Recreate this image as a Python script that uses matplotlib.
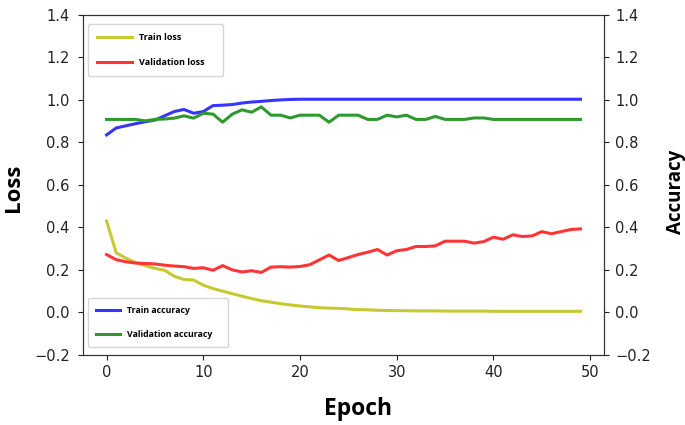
import matplotlib
matplotlib.use("Agg")
import matplotlib.pyplot as plt
import numpy as np

epochs = list(range(50))

train_loss = [0.43, 0.28, 0.255, 0.235, 0.22, 0.207, 0.198, 0.17, 0.155, 0.152,
              0.128, 0.112, 0.10, 0.088, 0.076, 0.065, 0.055, 0.048, 0.041, 0.035,
              0.030, 0.026, 0.022, 0.020, 0.019, 0.016, 0.013, 0.012, 0.010, 0.009,
              0.008, 0.008, 0.007, 0.007, 0.007, 0.006, 0.006, 0.006, 0.006, 0.006,
              0.005, 0.005, 0.005, 0.005, 0.005, 0.005, 0.005, 0.005, 0.005, 0.005]

val_loss = [0.272, 0.248, 0.238, 0.232, 0.230, 0.228, 0.222, 0.218, 0.215, 0.207,
            0.210, 0.198, 0.220, 0.200, 0.190, 0.196, 0.188, 0.213, 0.215, 0.213,
            0.216, 0.224, 0.247, 0.270, 0.244, 0.258, 0.272, 0.283, 0.296, 0.270,
            0.290, 0.296, 0.310, 0.310, 0.313, 0.335, 0.335, 0.335, 0.326, 0.333,
            0.354, 0.344, 0.365, 0.357, 0.360, 0.380, 0.370, 0.380, 0.390, 0.393]

train_acc = [0.835, 0.868, 0.878, 0.888, 0.897, 0.905, 0.925, 0.945, 0.955, 0.937,
             0.945, 0.973, 0.975, 0.978, 0.985, 0.990, 0.993, 0.997, 1.0, 1.002,
             1.003, 1.003, 1.003, 1.003, 1.003, 1.003, 1.003, 1.003, 1.003, 1.003,
             1.003, 1.003, 1.003, 1.003, 1.003, 1.003, 1.003, 1.003, 1.003, 1.003,
             1.003, 1.003, 1.003, 1.003, 1.003, 1.003, 1.003, 1.003, 1.003, 1.003]

val_acc = [0.908, 0.908, 0.908, 0.908, 0.901, 0.908, 0.910, 0.914, 0.925, 0.914,
           0.937, 0.933, 0.895, 0.933, 0.953, 0.942, 0.967, 0.928, 0.928, 0.915,
           0.928, 0.928, 0.928, 0.895, 0.928, 0.928, 0.928, 0.908, 0.908, 0.928,
           0.920, 0.928, 0.908, 0.908, 0.922, 0.908, 0.908, 0.908, 0.915, 0.915,
           0.908, 0.908, 0.908, 0.908, 0.908, 0.908, 0.908, 0.908, 0.908, 0.908]

yticks = [-0.2, 0.0, 0.2, 0.4, 0.6, 0.8, 1.0, 1.2, 1.4]
xticks = [0, 10, 20, 30, 40, 50]

fig = plt.figure(figsize=(6.85, 4.25), dpi=100)
ax = fig.add_axes([0.121, 0.165, 0.761, 0.8])
ax2 = ax.twinx()

lw = 2.2
l1, = ax.plot(epochs, train_loss, color='#c8c832', lw=lw, label='Train loss')
l2, = ax.plot(epochs, val_loss, color='#ff3535', lw=lw, label='Validation loss')
l3, = ax2.plot(epochs, train_acc, color='#3535ff', lw=lw, label='Train accuracy')
l4, = ax2.plot(epochs, val_acc, color='#2e9a2e', lw=lw, label='Validation accuracy')

for a in (ax, ax2):
    a.set_ylim(-0.2, 1.4)
    a.set_yticks(yticks)
    a.tick_params(labelsize=10.5, colors='#222222')
    for s in a.spines.values():
        s.set_color('#333333')
ax.tick_params(axis='y', pad=6)
ax2.tick_params(axis='y', pad=4.5)
ax.set_xticks(xticks)
ax.set_xlim(-2.45, 51.45)

lab_font = dict(family='Open Sans', weight='bold')
ax.set_xlabel('Epoch', fontsize=16.5, **lab_font)
ax.xaxis.set_label_coords(0.528, -0.125)
ax.set_ylabel('Loss', fontsize=16, **lab_font)
ax.yaxis.set_label_coords(-0.113, 0.49)
ax2.set_ylabel('Accuracy', fontsize=13.5, **lab_font)
ax2.yaxis.set_label_coords(1.118, 0.48)

leg1 = ax2.legend(handles=[l1, l2], loc='upper left', mode='expand',
                  bbox_to_anchor=(0.0096, 0.5, 0.259, 0.4735), borderaxespad=0,
                  prop=dict(family='Open Sans', weight='bold', size=6.5),
                  handlelength=3.9, handletextpad=0.8, labelspacing=1.75,
                  borderpad=1.0, fancybox=True)
ax2.add_artist(leg1)
leg2 = ax2.legend(handles=[l3, l4], loc='lower left', mode='expand',
                  bbox_to_anchor=(0.0096, 0.0235, 0.269, 0.4), borderaxespad=0,
                  prop=dict(family='Open Sans', weight='bold', size=6.3),
                  handlelength=2.75, handletextpad=0.8, labelspacing=1.65,
                  borderpad=0.95, fancybox=True)

fig.savefig('out.png', dpi=100)
